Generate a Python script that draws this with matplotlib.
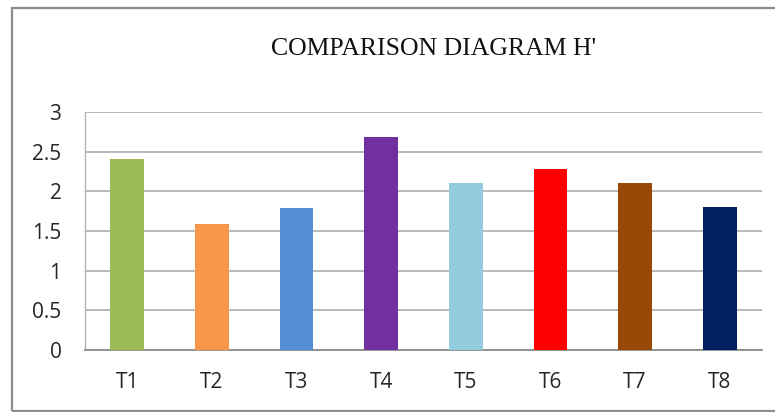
import matplotlib
matplotlib.use("Agg")
import matplotlib.pyplot as plt
import matplotlib.patches as mpatches

# ── Data ──────────────────────────────────────────────────────────────────────
treatments = ["T1", "T2", "T3", "T4", "T5", "T6", "T7", "T8"]
h_values   = [2.41, 1.59, 1.79, 2.68, 2.10, 2.28, 2.10, 1.80]
bar_colors = ["#9BBB59", "#F79646", "#558ED5", "#7030A0",
              "#93CDDD", "#FF0000", "#984807", "#002060"]
y_ticks    = [0, 0.5, 1, 1.5, 2, 2.5, 3]
y_labels   = ["0", "0.5", "1", "1.5", "2", "2.5", "3"]

# ── Figure ────────────────────────────────────────────────────────────────────
fig = plt.figure(figsize=(7.75, 4.12), dpi=100)
ax = fig.add_axes([0.1097, 0.1505, 0.8735, 0.5777])

# outer chart frame (runs past the right edge)
fig.patches.append(mpatches.Rectangle(
    (12 / 775, 1 / 412), 1.2, 403 / 412, transform=fig.transFigure,
    fill=False, edgecolor="#8c8c8c", lw=1.6, zorder=0))

x = range(len(treatments))
ax.bar(x, h_values, width=0.40, color=bar_colors, zorder=3)

ax.set_xlim(-0.5, len(treatments) - 0.5)
ax.set_ylim(0, 3)
ax.set_yticks(y_ticks)
ax.set_yticklabels(y_labels)
ax.set_xticks(list(x))
ax.set_xticklabels(treatments)

for lbl in ax.get_yticklabels() + ax.get_xticklabels():
    lbl.set_fontfamily("Open Sans")
    lbl.set_fontsize(15)
    lbl.set_color("#262626")

ax.tick_params(axis="y", length=0, pad=17)
ax.tick_params(axis="x", length=0, pad=16)

ax.grid(axis="y", color="#b3b3b3", lw=1.3, zorder=0)
for side in ["top", "right"]:
    ax.spines[side].set_visible(False)
ax.spines["left"].set_color("#b3b3b3")
ax.spines["left"].set_linewidth(1.0)
ax.spines["bottom"].set_color("#8c8c8c")
ax.spines["bottom"].set_linewidth(1.3)

fig.text(0.56, 0.88, "COMPARISON DIAGRAM H'", ha="center", va="center",
         family="Liberation Serif", fontsize=18.5, color="#111111")

fig.savefig("out.png", dpi=100)
